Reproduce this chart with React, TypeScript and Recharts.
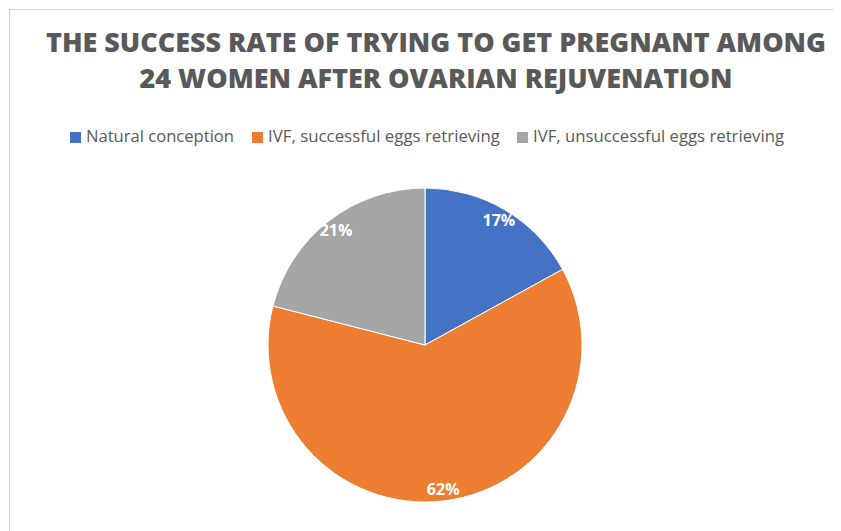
import React from "react";
import { PieChart, Pie, Cell } from "recharts";

const categories = [
  "Natural conception",
  "IVF, successful eggs retrieving",
  "IVF, unsuccessful eggs retrieving",
];
const shares = [17, 62, 21];
const colors = ["#4472C4", "#ED7D31", "#A5A5A5"];
const titleLines = [
  "THE SUCCESS RATE OF TRYING TO GET PREGNANT AMONG",
  "24 WOMEN AFTER OVARIAN REJUVENATION",
];

const data = categories.map((name, i) => ({ name, value: shares[i] }));

const FONT = "'Open Sans', 'Liberation Sans', sans-serif";
const RAD = Math.PI / 180;

const renderLabel = (props: any) => {
  const { cx, cy, midAngle, outerRadius, value } = props;
  const r = outerRadius * 0.925;
  const x = cx + r * Math.cos(-midAngle * RAD);
  const y = cy + r * Math.sin(-midAngle * RAD);
  return (
    <text
      x={x}
      y={y}
      fill="#ffffff"
      fontFamily={FONT}
      fontWeight={700}
      fontSize={16}
      textAnchor="middle"
      dominantBaseline="central"
    >
      {`${value}%`}
    </text>
  );
};

const legendItems = [
  { sx: 62, tx: 78, w: 148 },
  { sx: 244, tx: 260, w: 232 },
  { sx: 509, tx: 525, w: 251 },
];

export default function App() {
  return (
    <div style={{ position: "relative", width: 833, height: 523, overflow: "hidden", background: "#fff" }}>
      <div
        style={{
          position: "absolute",
          left: 1,
          top: 1,
          width: 831,
          height: 540,
          border: "1px solid #D0D0D0",
          boxSizing: "border-box",
        }}
      />
      <div style={{ position: "absolute", left: 0, top: 0 }}>
        <PieChart width={833} height={523} margin={{ top: 0, right: 0, bottom: 0, left: 0 }}>
          <Pie
            data={data}
            dataKey="value"
            nameKey="name"
            cx={417}
            cy={337}
            outerRadius={157}
            innerRadius={0}
            startAngle={90}
            endAngle={-270}
            stroke="#ffffff"
            strokeWidth={1}
            label={renderLabel}
            labelLine={false}
            isAnimationActive={false}
          >
            {data.map((d, i) => (
              <Cell key={d.name} fill={colors[i]} />
            ))}
          </Pie>
        </PieChart>
      </div>
      <svg width={833} height={150} style={{ position: "absolute", left: 0, top: 0 }}>
        <text
          x={428}
          y={44}
          textAnchor="middle"
          fontFamily={FONT}
          fontWeight={800}
          fontSize={27}
          fill="#595959"
          textLength={780}
          lengthAdjust="spacingAndGlyphs"
        >
          {titleLines[0]}
        </text>
        <text
          x={428}
          y={80}
          textAnchor="middle"
          fontFamily={FONT}
          fontWeight={800}
          fontSize={27}
          fill="#595959"
          textLength={593}
          lengthAdjust="spacingAndGlyphs"
        >
          {titleLines[1]}
        </text>
        {categories.map((c, i) => (
          <g key={c}>
            <rect x={legendItems[i].sx} y={124} width={11} height={11} fill={colors[i]} />
            <text
              x={legendItems[i].tx}
              y={134}
              fontFamily={FONT}
              fontSize={16}
              fill="#595959"
              textLength={legendItems[i].w}
              lengthAdjust="spacingAndGlyphs"
            >
              {c}
            </text>
          </g>
        ))}
      </svg>
    </div>
  );
}
